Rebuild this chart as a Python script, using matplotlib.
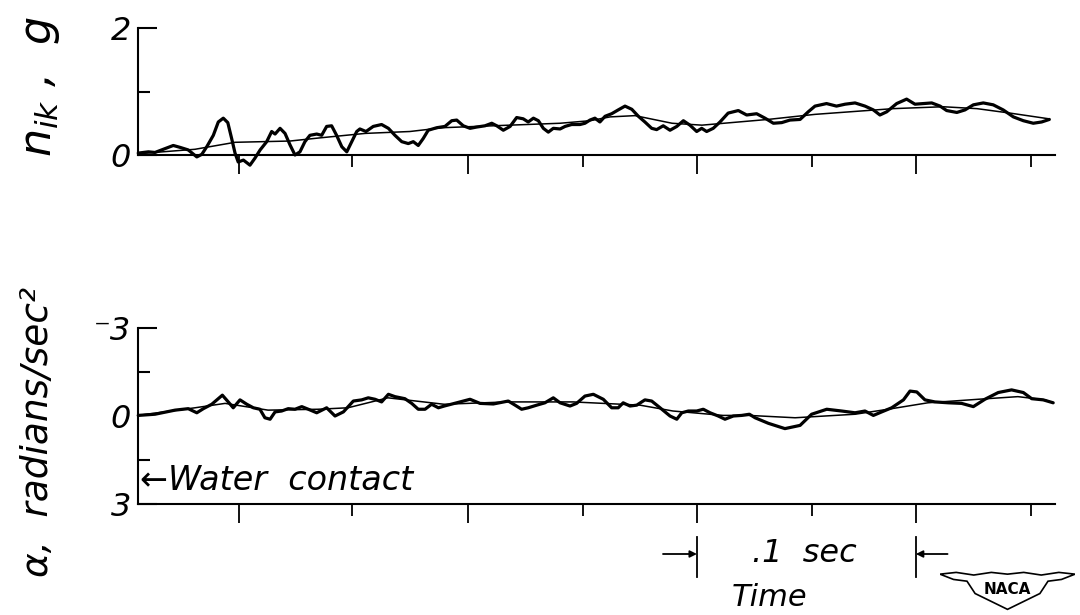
import matplotlib
matplotlib.use("Agg")
import matplotlib.pyplot as plt
from matplotlib.patches import Polygon
from matplotlib.transforms import blended_transform_factory
from matplotlib.ticker import FixedLocator, NullFormatter

# ---------------- data (time in ms from start of record) ----------------
nik_t = [0.1, 4.6, 7.5, 11.2, 15.6, 18.6, 22.2, 26.0, 28.2, 30.4, 33.3, 35.5, 37.7, 39.7,
         41.4, 42.9, 44.3, 46.6, 49.5, 51.7, 54.0, 56.9, 59.1, 60.6, 62.8, 65.0, 67.2, 69.4,
         71.6, 73.8, 76.0, 79.0, 81.2, 83.4, 85.6, 87.8, 90.1, 92.3, 94.5, 96.7, 98.1, 100.8,
         104.0, 107.7, 110.7, 113.6, 116.6, 119.5, 121.7, 123.9, 126.1, 128.3, 132.1, 135.7,
         138.7, 140.9, 143.8, 146.8, 149.7, 153.4, 156.4, 158.6, 161.5, 164.5, 167.4, 170.3,
         172.5, 174.8, 177.0, 179.2, 181.4, 183.6, 186.6, 188.8, 191.7, 195.4, 197.6, 199.8,
         202.0, 204.2, 206.5, 209.4, 212.3, 215.3, 218.3, 221.2, 224.1, 227.1, 229.3, 232.2,
         235.2, 238.2, 241.1, 244.0, 247.0, 249.2, 251.4, 254.3, 257.3, 260.9, 265.4, 269.1,
         273.5, 277.2, 280.9, 284.6, 288.2, 292.7, 296.3, 299.3, 304.4, 308.8, 312.6, 317.0,
         321.4, 325.1, 328.0, 331.0, 335.4, 339.8, 343.5, 347.2, 350.9, 354.6, 357.5, 362.0,
         365.6, 369.3, 373.7, 378.1, 382.5, 387.0, 391.4, 395.8, 399.5, 402.9]
nik_val = [0.03, 0.05, 0.04, 0.09, 0.15, 0.12, 0.08, -0.03, 0.01, 0.13, 0.31, 0.52, 0.58, 0.51,
           0.26, 0.03, -0.11, -0.08, -0.16, -0.05, 0.08, 0.21, 0.37, 0.33, 0.42, 0.34, 0.16, 0.00,
           0.05, 0.21, 0.31, 0.33, 0.31, 0.45, 0.46, 0.31, 0.13, 0.05, 0.21, 0.37, 0.41, 0.37,
           0.45, 0.48, 0.42, 0.31, 0.21, 0.18, 0.21, 0.15, 0.26, 0.39, 0.43, 0.45,
           0.54, 0.55, 0.46, 0.42, 0.44, 0.46, 0.50, 0.46, 0.39, 0.45, 0.59, 0.57,
           0.52, 0.58, 0.54, 0.42, 0.36, 0.42, 0.41, 0.45, 0.48, 0.48, 0.50, 0.55,
           0.58, 0.52, 0.61, 0.65, 0.71, 0.77, 0.72, 0.61, 0.52, 0.42, 0.40, 0.46,
           0.39, 0.45, 0.54, 0.47, 0.37, 0.42, 0.37, 0.42, 0.52, 0.66, 0.70, 0.63,
           0.65, 0.58, 0.50, 0.51, 0.55, 0.56, 0.68, 0.77, 0.81, 0.77, 0.80, 0.82,
           0.77, 0.71, 0.63, 0.68, 0.81, 0.88, 0.80, 0.81, 0.82, 0.77, 0.70, 0.67,
           0.71, 0.79, 0.82, 0.79, 0.71, 0.60, 0.54, 0.50, 0.52, 0.56]

nik_fair_t = [0.0, 25.2, 42.9, 67.2, 80.5, 100.4, 120.2, 134.8, 156.9, 186.6, 199.8, 208.7,
              219.7, 236.1, 249.3, 278.5, 299.3, 333.8, 355.9, 370.9, 385.5, 402.7]
nik_fair_val = [0.02, 0.09, 0.20, 0.22, 0.27, 0.34, 0.37, 0.43, 0.46, 0.50, 0.54, 0.60,
                0.62, 0.50, 0.47, 0.56, 0.64, 0.73, 0.76, 0.73, 0.66, 0.57]

alpha_t = [0.1, 7.5, 16.4, 22.2, 26.0, 28.9, 32.6, 37.3, 39.9, 42.1, 45.1, 48.1, 51.0, 53.9,
           56.1, 58.4, 60.6, 63.5, 66.4, 69.4, 72.4, 75.3, 79.0, 83.4, 87.1, 90.8, 95.2, 98.9,
           101.8, 104.8, 107.7, 110.7, 113.6, 118.0, 121.0, 123.9, 126.9, 129.8, 132.8, 135.4,
           140.9, 146.8, 151.2, 157.1, 163.7, 166.7, 169.6, 172.5, 176.3, 179.9, 183.6, 186.6,
           191.0, 193.9, 197.6, 201.3, 205.7, 209.4, 212.3, 214.5, 217.5, 220.5, 224.1, 227.1,
           230.8, 235.2, 238.2, 240.4, 243.3, 247.0, 249.9, 252.9, 256.5, 259.5, 263.2, 266.9,
           270.3, 272.8, 278.7, 286.0, 292.7, 297.8, 304.5, 311.1, 317.0, 321.4, 325.1, 328.8,
           333.2, 338.4, 341.3, 344.3, 347.9, 352.3, 358.2, 364.1, 369.3, 374.4, 380.3, 386.2,
           391.4, 395.1, 400.2, 404.6]
alpha_val = [-0.02, -0.06, -0.20, -0.25, -0.11, -0.25, -0.40, -0.71, -0.48, -0.28, -0.55, -0.40,
             -0.28, -0.23, 0.06, 0.11, -0.14, -0.17, -0.25, -0.23, -0.32, -0.23, -0.11, -0.28,
             0.00, -0.14, -0.51, -0.55, -0.62, -0.57, -0.48, -0.74, -0.66, -0.59, -0.43, -0.23,
             -0.23, -0.40, -0.28, -0.34,
             -0.45, -0.57, -0.43, -0.41, -0.51, -0.37, -0.23, -0.28, -0.37, -0.45, -0.62, -0.45,
             -0.34, -0.43, -0.68, -0.74, -0.57, -0.28, -0.28, -0.45, -0.34, -0.37, -0.55, -0.51,
             -0.28, 0.00, 0.11, -0.11, -0.17, -0.17, -0.23, -0.11, 0.00, 0.11, 0.00, -0.02,
             -0.06, 0.06, 0.25, 0.43, 0.32, -0.06, -0.23, -0.17, -0.11, -0.17, -0.02, -0.14,
             -0.28, -0.55, -0.85, -0.82, -0.55, -0.48, -0.45, -0.43, -0.32, -0.57, -0.80, -0.89,
             -0.80, -0.59, -0.55, -0.45]

alpha_fair_t = [0.0, 25.2, 38.5, 57.5, 79.6, 92.8, 110.5, 135.3, 163.1, 192.3, 221.9, 236.5,
                258.6, 270.1, 290.5, 317.0, 331.6, 349.2, 371.4, 389.0, 401.0, 404.5]
alpha_fair_val = [-0.02, -0.28, -0.43, -0.20, -0.23, -0.28, -0.62, -0.40, -0.48, -0.48, -0.37,
                  -0.17, -0.02, -0.02, 0.06, -0.06, -0.23, -0.45, -0.57, -0.66, -0.55, -0.45]

time_ticks_long = [44.7, 145.9, 247.1, 343.9]
time_ticks_short = [94.6, 196.7, 298.0, 394.8]
time_max = 405.4

nik_ticks = [0, 2]
nik_ticklabels = ["0", "2"]
nik_minor = [1]
alpha_ticks = [-3, 0, 3]
alpha_ticklabels = ["\u207b3", "0", "3"]
alpha_minor = [-1.5, 1.5]

# ---------------- style ----------------
FONT = ['DejaVu Sans']
plt.rcParams['font.family'] = FONT
plt.rcParams['mathtext.fontset'] = 'dejavusans'
txt = dict(family=FONT, style='italic', color='black')
tick_font = dict(family=FONT, style='italic')

fig = plt.figure(figsize=(10.8, 6.15), dpi=100)
fig.patch.set_facecolor('white')

W, H = 1080.0, 615.0
ax1 = fig.add_axes([138 / W, (H - 155) / H, 917 / W, 127 / H])
ax2 = fig.add_axes([138 / W, (H - 504) / H, 917 / W, 176 / H])

for ax in (ax1, ax2):
    ax.set_facecolor('none')
    ax.spines['top'].set_visible(False)
    ax.spines['right'].set_visible(False)
    ax.spines['left'].set_linewidth(1.5)
    ax.spines['bottom'].set_linewidth(1.5)
    ax.set_xlim(0, time_max)
    ax.xaxis.set_major_locator(FixedLocator(time_ticks_long))
    ax.xaxis.set_minor_locator(FixedLocator(time_ticks_short))
    ax.xaxis.set_major_formatter(NullFormatter())
    ax.tick_params(axis='x', which='major', direction='out', length=13.5, width=1.3)
    ax.tick_params(axis='x', which='minor', direction='out', length=8.5, width=1.3)
    ax.tick_params(axis='y', which='major', direction='in', length=14, width=1.5, pad=5,
                   labelsize=23)
    ax.tick_params(axis='y', which='minor', direction='in', length=8.5, width=1.5)

line_kw = dict(color='black', clip_on=False, solid_capstyle='round', solid_joinstyle='round')

# top panel
ax1.plot(nik_t, nik_val, lw=2.3, **line_kw)
ax1.plot(nik_fair_t, nik_fair_val, lw=1.1, **line_kw)
ax1.set_ylim(0, 2)
ax1.set_yticks(nik_ticks)
ax1.set_yticklabels(nik_ticklabels, **tick_font)
ax1.yaxis.set_minor_locator(FixedLocator(nik_minor))

# bottom panel
ax2.plot(alpha_t, alpha_val, lw=2.3, **line_kw)
ax2.plot(alpha_fair_t, alpha_fair_val, lw=1.1, **line_kw)
ax2.set_ylim(3, -3)
ax2.set_yticks(alpha_ticks)
ax2.set_yticklabels(alpha_ticklabels, **tick_font)
ax2.yaxis.set_minor_locator(FixedLocator(alpha_minor))
ax2.yaxis.get_major_ticks()[1].tick1line.set_visible(False)

# axis titles
fig.text(40 / W, 1 - 86 / H, r"$n_{ik}$ ,  $g$", rotation=90, ha='center', va='center',
         fontsize=32, **txt)
fig.text(38 / W, 1 - 432 / H, "\u03b1,  radians/sec\u00b2", rotation=90, ha='center',
         va='center', fontsize=27, **txt)

# water contact marker
fig.text(140 / W, 1 - 481 / H, "\u2190Water  contact", ha='left', va='center',
         fontsize=24, **txt)

# time scale bar (.1 sec between ticks)
trans = blended_transform_factory(ax2.transData, fig.transFigure)
t_a, t_b = time_ticks_long[2], time_ticks_long[3]
y_top, y_bot, y_mid = (H - 537) / H, (H - 577) / H, (H - 554) / H
for tx in (t_a, t_b):
    ax2.plot([tx, tx], [y_top, y_bot], color='black', lw=1.3, transform=trans, clip_on=False)
ax2.annotate("", xy=(t_a, y_mid), xytext=(t_a - 15, y_mid), xycoords=trans, textcoords=trans,
             arrowprops=dict(arrowstyle='-|>', color='black', lw=1.3, mutation_scale=10,
                             shrinkA=0, shrinkB=0))
ax2.annotate("", xy=(t_b, y_mid), xytext=(t_b + 14, y_mid), xycoords=trans, textcoords=trans,
             arrowprops=dict(arrowstyle='-|>', color='black', lw=1.3, mutation_scale=10,
                             shrinkA=0, shrinkB=0))
fig.text(804 / W, y_mid, ".1  sec", ha='center', va='center', fontsize=23, **txt)

fig.text(770 / W, 1 - 598 / H, "Time", ha='center', va='center', fontsize=22, **txt)

# NACA emblem
axl = fig.add_axes([940 / W, 3 / H, 135 / W, 44 / H])
axl.set_xlim(0, 1)
axl.set_ylim(0, 1)
axl.axis('off')
emblem = [(0.0, 0.86), (0.12, 0.90), (0.25, 0.84), (0.38, 0.90), (0.5, 0.86), (0.62, 0.90),
          (0.75, 0.84), (0.88, 0.90), (1.0, 0.86), (0.90, 0.74), (0.80, 0.70), (0.74, 0.42),
          (0.62, 0.24), (0.5, 0.06), (0.38, 0.24), (0.26, 0.42), (0.20, 0.70), (0.10, 0.74)]
axl.add_patch(Polygon(emblem, closed=True, facecolor='white', edgecolor='black', lw=1.2))
axl.text(0.5, 0.5, "NACA", ha='center', va='center', fontsize=11, fontweight='bold',
         family=['DejaVu Sans'])

fig.savefig("out.png", dpi=100, facecolor='white')
